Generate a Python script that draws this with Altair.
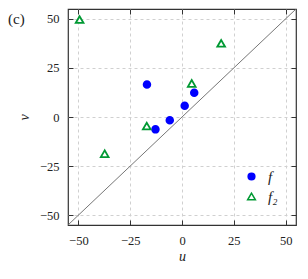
import altair as alt
import pandas as pd

# data
f_u = [-16.9, 5.9, 1.3, -5.9, -12.8]
f_v = [16.5, 12.4, 5.7, -1.6, -6.3]
f2_u = [-49.4, 18.9, 4.7, -17.0, -37.3]
f2_v = [49.6, 37.5, 17.1, -4.6, -18.7]
diag = [-55, 55]
ticks = [-50, -25, 0, 25, 50]
series_names = ["f", "f₂"]

pts = pd.DataFrame({
    "u": f_u + f2_u,
    "v": f_v + f2_v,
    "s": [series_names[0]] * len(f_u) + [series_names[1]] * len(f2_u),
})
line_df = pd.DataFrame({"u": diag, "v": diag})

FONT = "Liberation Serif, DejaVu Serif, serif"
dom = [-55, 55]
xs = alt.Scale(domain=dom, nice=False, zero=False)
ys = alt.Scale(domain=dom, nice=False, zero=False)

main_x = alt.Axis(orient="bottom", values=ticks, offset=-5, tickSize=5, labelPadding=9,
                  domain=False, grid=True, gridDash=[3, 3], gridColor="#d0d0d0",
                  tickColor="#333333", labelFont=FONT, labelFontSize=12.5,
                  labelColor="#222222",
                  title="u", titleFont=FONT, titleFontStyle="italic",
                  titleFontWeight="normal", titleFontSize=14, titlePadding=3,
                  titleColor="#222222",
                  labelExpr="replace(datum.label, '-', '\u2212')")
main_y = alt.Axis(orient="left", values=ticks, offset=-5, tickSize=5, labelPadding=9,
                  domain=False, grid=True, gridDash=[3, 3], gridColor="#d0d0d0",
                  tickColor="#333333", labelFont=FONT, labelFontSize=12.5,
                  labelColor="#222222",
                  title="v", titleFont=FONT, titleFontStyle="italic",
                  titleFontWeight="normal", titleFontSize=14, titlePadding=8,
                  titleColor="#222222",
                  labelExpr="replace(datum.label, '-', '\u2212')")
top_x = alt.Axis(orient="top", values=ticks, offset=-5, tickSize=5, labels=False,
                 domain=False, grid=False, title=None, tickColor="#333333")
right_y = alt.Axis(orient="right", values=ticks, offset=-5, tickSize=5, labels=False,
                   domain=False, grid=False, title=None, tickColor="#333333")

line = alt.Chart(line_df).mark_line(color="#666666", strokeWidth=0.9, clip=True).encode(
    x=alt.X("u:Q", scale=xs, axis=main_x),
    y=alt.Y("v:Q", scale=ys, axis=main_y),
)

frame_axes = alt.Chart(line_df).mark_line(opacity=0).encode(
    x=alt.X("u:Q", scale=xs, axis=top_x),
    y=alt.Y("v:Q", scale=ys, axis=right_y),
)

leg = alt.Legend(title=None, orient="none", legendX=176, legendY=160,
                 labelFont=FONT, labelFontStyle="italic", labelFontSize=15,
                 labelColor="#222222", rowPadding=4, labelOffset=9)

points = alt.Chart(pts).mark_point(strokeWidth=1.8, opacity=1).encode(
    x=alt.X("u:Q", scale=xs, axis=None),
    y=alt.Y("v:Q", scale=ys, axis=None),
    shape=alt.Shape("s:N", scale=alt.Scale(domain=series_names, range=["circle", "triangle-up"]),
                    legend=leg),
    size=alt.Size("s:N", scale=alt.Scale(domain=series_names, range=[45, 60]), legend=leg),
    fill=alt.Fill("s:N", scale=alt.Scale(domain=series_names, range=["#0000ff", "transparent"]),
                  legend=leg),
    stroke=alt.Stroke("s:N", scale=alt.Scale(domain=series_names, range=["#0000ff", "#009933"]),
                      legend=leg),
)

chart = alt.layer(line, frame_axes, points).resolve_axis(
    x="independent", y="independent"
).properties(
    width=228,
    height=216,
    autosize=alt.AutoSizeParams(type="none"),
    padding={"left": 60, "top": 1, "right": 3, "bottom": 40},
    title=alt.TitleParams("(c)", anchor="start", frame="group", dx=-60, dy=18, offset=0,
                          font=FONT, fontSize=15, fontWeight="normal", baseline="top",
                          color="#222222"),
).configure_view(stroke="#333333", strokeWidth=1.2)

chart.save("out.html", embed_options={"renderer": "svg", "actions": False})
